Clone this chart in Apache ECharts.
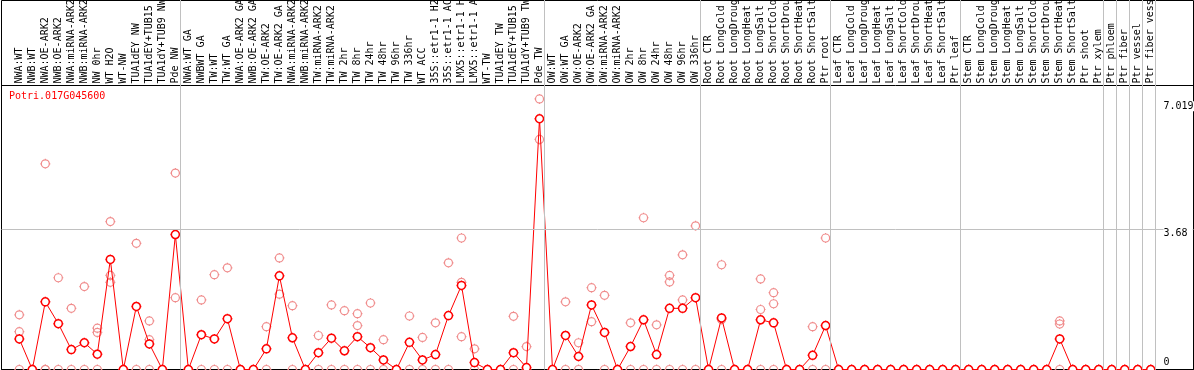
<!DOCTYPE html>
<html>
<head>
<meta charset="utf-8">
<script src="https://cdn.jsdelivr.net/npm/echarts@6/dist/echarts.min.js"></script>
<style>
html,body{margin:0;padding:0;background:#fff;}
#chart{width:1194px;height:370px;}
</style>
</head>
<body>
<div id="chart"></div>
<script>
const geneTitle = 'Potri.017G045600';

const categories = [
  'NWA:WT','NWB:WT','NWA:OE-ARK2','NWB:OE-ARK2','NWA:miRNA-ARK2','NWB:miRNA-ARK2','NW 0hr','WT H2O','WT-NW',
  'TUA1dEY NW','TUA1dEY+TUB15 NW','TUA1dY+TUB9 NW','Pde NW',
  'NWA:WT GA','NWBWT GA','TW:WT','TW:WT GA','NWA:OE-ARK2 GA','NWB:OE-ARK2 GA','TW:OE-ARK2','TW:OE-ARK2 GA',
  'NWA:miRNA-ARK2','NWB:miRNA-ARK2','TW:miRNA-ARK2','TW:miRNA-ARK2','TW 2hr','TW 8hr','TW 24hr','TW 48hr','TW 96hr','TW 336hr',
  'WT ACC','35S::etr1-1 H2O','35S::etr1-1 ACC','LMX5::etr1-1 H2O','LMX5::etr1-1 ACC','WT-TW','TUA1dEY TW','TUA1dEY+TUB15 TW','TUA1dY+TUB9 TW','Pde TW',
  'OW:WT','OW:WT GA','OW:OE-ARK2','OW:OE-ARK2 GA','OW:miRNA-ARK2','OW:miRNA-ARK2','OW 2hr','OW 8hr','OW 24hr','OW 48hr','OW 96hr','OW 336hr',
  'Root CTR','Root LongCold','Root LongDrought','Root LongHeat','Root LongSalt','Root ShortCold','Root ShortDrought','Root ShortHeat','Root ShortSalt','Ptr root',
  'Leaf CTR','Leaf LongCold','Leaf LongDrought','Leaf LongHeat','Leaf LongSalt','Leaf ShortCold','Leaf ShortDrought','Leaf ShortHeat','Leaf ShortSalt','Ptr leaf',
  'Stem CTR','Stem LongCold','Stem LongDrought','Stem LongHeat','Stem LongSalt','Stem ShortCold','Stem ShortDrought','Stem ShortHeat','Stem ShortSalt','Ptr shoot','Ptr xylem',
  'Ptr phloem','Ptr fiber','Ptr vessel','Ptr fiber vessel'
];

const meanValues = [
  0.80, 0, 1.77, 1.20, 0.52, 0.70, 0.40, 2.88, 0,
  1.65, 0.67, 0, 3.53,
  0, 0.91, 0.80, 1.33, 0, 0, 0.54, 2.45,
  0.83, 0, 0.44, 0.82, 0.49, 0.86, 0.57, 0.25, 0, 0.71,
  0.25, 0.39, 1.41, 2.20, 0.18, 0, 0, 0.44, 0.05, 6.56,
  0, 0.89, 0.34, 1.69, 0.97, 0, 0.60, 1.30, 0.39, 1.60, 1.60, 1.88,
  0, 1.35, 0, 0, 1.30, 1.22, 0, 0, 0.37, 1.15,
  0, 0, 0, 0, 0, 0, 0, 0, 0, 0,
  0, 0, 0, 0, 0, 0, 0, 0.80, 0, 0, 0,
  0, 0, 0, 0
];

const replicateValues = [
  [1.43, 0.99, 0], [0], [5.38, 0, 0], [2.40, 0], [1.60, 0], [2.17, 0], [1.08, 0.97, 0], [3.87, 2.46, 2.28], [0],
  [3.30, 0], [1.27, 0.78, 0], [0], [5.14, 1.88],
  [0], [1.82, 0], [2.48, 0], [2.66, 0], [0], [0], [1.12, 0], [2.92, 1.97],
  [1.67, 0], [0], [0.89, 0], [1.69, 0], [1.54, 0], [1.46, 1.15, 0], [1.74, 0], [0.78, 0], [0], [1.40, 0],
  [0.84, 0], [1.22, 0], [2.79, 0], [3.44, 2.28, 0.86], [0.54, 0], [0], [0], [1.39, 0], [0.60, 0], [7.08, 6.02],
  [0], [1.77, 0], [0.70, 0], [2.14, 1.25], [1.94, 0], [0], [1.22, 0], [3.97, 0], [1.17, 0], [2.46, 2.29, 0], [3.00, 1.82, 0], [3.76, 0],
  [0], [2.74, 1.31, 0], [0], [0], [2.37, 1.57, 0], [2.01, 1.72, 0], [0], [0], [1.12, 0], [3.44, 0],
  [0], [0], [0], [0], [0], [0], [0], [0], [0], [0],
  [0], [0], [0], [0], [0], [0], [0], [1.27, 1.19, 0], [0], [0], [0],
  [0], [0], [0], [0]
];

// index of the first category of each group (a separator line is drawn before it)
const groupStarts = [0, 13, 41, 53, 63, 73, 84, 85, 86, 87, 88];
const yTickLabels = [3.68, 7.019];
const yZeroLabel = [0];
const yGridValues = [3.68];
const yMax = 7.43;

const FONT = "'DejaVu Sans Mono', 'Liberation Mono', monospace";
const RED = '#ff0000';
const PINK = '#f08c8c';
const GRAY = '#c0c0c0';
const markerPath = 'path://M1 5A4 4 0 1 0 9 5A4 4 0 1 0 1 5Z M5 0V1 M5 9V10 M0 5H1 M9 5H10';

const replicatePoints = [];
replicateValues.forEach((reps, i) => reps.forEach(v => replicatePoints.push([i, v])));

const sepOffset = 0.65;
const sepLines = groupStarts.map(i => ({ xAxis: i - sepOffset }));

const dataLeft = 12.8, dataRight = 36.76;

const chart = echarts.init(document.getElementById('chart'), null, { renderer: 'canvas' });
chart.setOption({
  animation: false,
  backgroundColor: '#fff',
  title: {
    text: geneTitle, left: 9, top: 91, padding: 0,
    textStyle: { color: RED, fontFamily: FONT, fontSize: 10, fontWeight: 'normal' }
  },
  grid: [
    { left: 1.5, right: 0.5, top: 0.5, bottom: 0.5, show: true, borderColor: '#000', borderWidth: 1, backgroundColor: 'transparent', outerBoundsMode: 'none', containLabel: false },
    { left: 1.5, right: 0.5, top: 85.5, bottom: 0.5, show: true, borderColor: '#000', borderWidth: 1, backgroundColor: 'transparent', outerBoundsMode: 'none', containLabel: false },
    { left: dataLeft, right: dataRight, top: 85.5, bottom: 0.5, outerBoundsMode: 'none', containLabel: false },
    { left: dataLeft, right: dataRight, top: 0, bottom: 0.5, outerBoundsMode: 'none', containLabel: false }
  ],
  xAxis: [
    { gridIndex: 0, type: 'value', min: 0, max: 1, show: false },
    { gridIndex: 1, type: 'value', min: 0, max: 1, show: false },
    {
      gridIndex: 2, type: 'category', data: categories, position: 'top', boundaryGap: true,
      axisLine: { show: false }, axisTick: { show: false }, splitLine: { show: false },
      axisLabel: { interval: 0, rotate: 90, margin: 2, color: '#000', fontFamily: FONT, fontSize: 10, hideOverlap: false }
    },
    { gridIndex: 3, type: 'value', min: -0.5, max: 87.5, show: false }
  ],
  yAxis: [
    { gridIndex: 0, type: 'value', min: 0, max: 1, show: false },
    {
      gridIndex: 1, type: 'value', min: 0, max: yMax, position: 'right', z: 10,
      axisLine: { show: false }, axisTick: { show: false }, splitLine: { show: false },
      axisLabel: {
        customValues: yTickLabels, inside: true, margin: 30, align: 'left', verticalAlign: 'top',
        color: '#000', fontFamily: FONT, fontSize: 10, backgroundColor: '#fff', padding: [0, 5, 0, 0],
        formatter: v => String(v)
      }
    },
    {
      gridIndex: 1, type: 'value', min: 0, max: yMax, position: 'right', z: 10,
      axisLine: { show: false }, axisTick: { show: false }, splitLine: { show: false },
      axisLabel: {
        customValues: yZeroLabel, inside: true, margin: 30, align: 'left', verticalAlign: 'bottom',
        color: '#000', fontFamily: FONT, fontSize: 10, padding: [0, 0, 2, 0],
        formatter: v => String(v)
      }
    },
    { gridIndex: 2, type: 'value', min: 0, max: yMax, show: false },
    { gridIndex: 3, type: 'value', min: 0, max: 1, show: false }
  ],
  series: [
    {
      type: 'line', xAxisIndex: 3, yAxisIndex: 4, data: [], silent: true,
      markLine: {
        silent: true, symbol: ['none', 'none'], label: { show: false },
        lineStyle: { color: GRAY, width: 1, type: 'solid' },
        emphasis: { disabled: true },
        data: sepLines
      }
    },
    {
      type: 'line', xAxisIndex: 1, yAxisIndex: 1, data: [], silent: true,
      markLine: {
        silent: true, symbol: ['none', 'none'], label: { show: false },
        lineStyle: { color: GRAY, width: 1, type: 'solid' },
        emphasis: { disabled: true },
        data: yGridValues.map(v => ({ yAxis: v }))
      }
    },
    {
      type: 'scatter', xAxisIndex: 2, yAxisIndex: 3, z: 3, silent: true,
      data: replicatePoints,
      symbol: markerPath, symbolSize: 10,
      itemStyle: { color: 'rgba(0,0,0,0)', borderColor: PINK, borderWidth: 1.2, opacity: 1 }
    },
    {
      type: 'line', xAxisIndex: 2, yAxisIndex: 3, z: 4, silent: true,
      data: meanValues,
      symbol: markerPath, symbolSize: 10, showAllSymbol: true,
      lineStyle: { color: RED, width: 1 },
      itemStyle: { color: '#fff', borderColor: RED, borderWidth: 1.5 }
    }
  ]
});
</script>
</body>
</html>
